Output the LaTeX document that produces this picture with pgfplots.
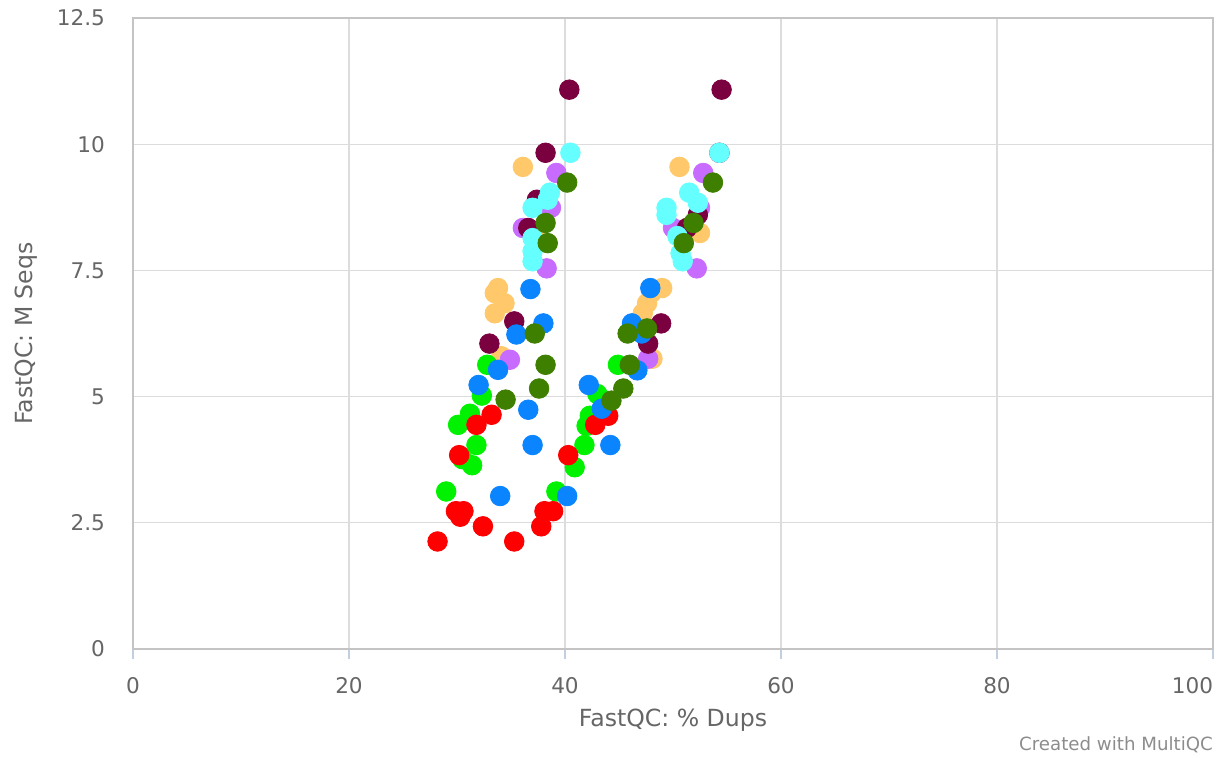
\documentclass[border=0pt]{standalone}
\usepackage{fontspec}
\setmainfont{DejaVu Sans}
\usepackage{pgfplots}
\pgfplotsset{compat=1.18}
\definecolor{cRed}{HTML}{FF0000}
\definecolor{cLime}{HTML}{00F200}
\definecolor{cDGreen}{HTML}{3F7F00}
\definecolor{cPurple}{HTML}{C86BFF}
\definecolor{cMaroon}{HTML}{7B0040}
\definecolor{cPeach}{HTML}{FFC96B}
\definecolor{cBlue}{HTML}{0A84FF}
\definecolor{cCyan}{HTML}{66FFFF}
\definecolor{gridc}{HTML}{DCDCDC}
\definecolor{framec}{HTML}{C4C4C4}
\definecolor{xaxisc}{HTML}{C0D0E0}
\definecolor{txt}{HTML}{666666}
\pgfplotsset{dot/.style={only marks, mark=*, mark size=4.9pt, draw=#1, fill=#1, mark options={draw=#1, fill=#1}}}
\begin{document}
\begin{tikzpicture}
\begin{axis}[
  scale only axis, width=540pt, height=315.5pt,
  xmin=0, xmax=100, ymin=0, ymax=12.5,
  xtick={0,20,40,60,80,100}, ytick={0,2.5,5,7.5,10,12.5},
  yticklabels={0,2.5,5,7.5,10,12.5},
  xticklabel={\ifnum\ticknum=5 \llap{100}\else\pgfmathprintnumber{\tick}\fi},
  /pgf/number format/assume math mode=true,
  ticklabel style={font=\fontsize{10.8}{12}\selectfont, text=txt},
  grid=major, major grid style={gridc, line width=0.6pt},
  axis line style={framec, line width=0.8pt},
  x axis line style={xaxisc},
  xtick style={xaxisc, line width=0.8pt}, ytick style={draw=none},
  major tick length=5pt, xtick pos=bottom, xtick align=outside,
  ytick pos=left,
  xticklabel style={yshift=-5.5pt},
  yticklabel style={xshift=-10.5pt},
  xlabel={FastQC: \% Dups}, ylabel={FastQC: M Seqs},
  label style={font=\fontsize{11.8}{13}\selectfont, text=txt},
  xlabel style={yshift=-1pt},
  ylabel style={yshift=3pt},
  clip=false,
]
% peach
\addplot[dot=cPeach] coordinates {
(36.1,9.55) (33.8,7.15) (33.5,7.05) (34.4,6.85) (33.5,6.65) (34.1,5.8) (37.5,8.24)
(50.6,9.55) (52.5,8.24) (49.0,7.15) (48.0,7.05) (47.6,6.85) (47.2,6.65) (48.1,5.75)
};
% purple
\addplot[dot=cPurple] coordinates {
(34.9,5.73) (39.2,9.43) (38.7,8.74) (36.1,8.34) (38.3,7.54)
(52.8,9.43) (52.5,8.74) (50.0,8.34) (52.2,7.54) (47.7,5.75)
};
% maroon
\addplot[dot=cMaroon] coordinates {
(40.4,11.08) (38.2,9.83) (37.4,8.9) (36.6,8.34) (35.3,6.49) (33.0,6.05)
(54.5,11.08) (54.3,9.83) (52.3,8.6) (51.3,8.34) (48.9,6.45) (47.7,6.05)
};
% cyan
\addplot[dot=cCyan] coordinates {
(40.5,9.83) (38.6,9.04) (38.4,8.9) (37.0,8.74) (37.0,8.14) (37.0,7.88) (37.0,7.68)
(54.3,9.83) (51.5,9.04) (52.3,8.84) (49.4,8.74) (49.4,8.6) (50.4,8.18) (50.7,7.84) (50.9,7.68)
};
% lime
\addplot[dot=cLime] coordinates {
(29.0,3.12) (30.1,4.44) (31.2,4.66) (31.8,4.04) (31.4,3.64) (30.5,3.76) (32.3,5.02) (32.8,5.63)
(39.2,3.12) (40.9,3.60) (41.8,4.04) (42.0,4.42) (42.3,4.62) (43.0,5.05) (44.9,5.63)
};
% red
\addplot[dot=cRed] coordinates {
(28.2,2.13) (29.9,2.73) (30.6,2.73) (30.3,2.62) (32.4,2.43) (35.3,2.13)
(38.1,2.73) (38.9,2.73) (37.8,2.43) (30.2,3.84) (31.8,4.44) (33.2,4.64)
(40.3,3.84) (42.8,4.44) (44.0,4.62)
};
% blue
\addplot[dot=cBlue] coordinates {
(36.8,7.13) (38.0,6.45) (35.5,6.23) (33.8,5.53) (32.0,5.23) (36.6,4.74) (37.0,4.04) (34.0,3.03)
(40.2,3.03) (47.9,7.15) (46.2,6.45) (47.1,6.25) (46.7,5.52) (42.2,5.23) (43.4,4.76) (44.2,4.04)
};
% dark green
\addplot[dot=cDGreen] coordinates {
(34.5,4.94) (37.6,5.16) (38.2,5.63) (37.2,6.25) (40.2,9.24) (38.2,8.44) (38.4,8.04)
(53.7,9.24) (51.9,8.44) (51.0,8.04) (45.8,6.25) (47.6,6.35) (46.0,5.63) (45.4,5.16) (44.3,4.92)
};
\end{axis}
\node[anchor=base east, font=\fontsize{9.1}{10}\selectfont, text=black!45] at (543.5pt,-51pt) {Created with MultiQC};
\pgfresetboundingbox
\path[use as bounding box] (-66.5pt,-54.5pt) rectangle (547pt,324.5pt);
\end{tikzpicture}
\end{document}
